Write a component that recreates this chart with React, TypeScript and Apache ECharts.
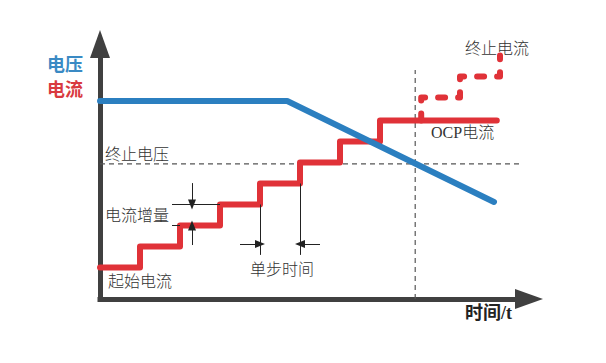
import React, { useEffect, useRef } from "react";
import * as echarts from "echarts";

// time in "step time" units, levels in "current increment" units
const currentTime = [0, 1, 2, 3, 4, 5, 6, 7, 9.92];
const currentLevel = [1.5, 2.5, 3.5, 4.5, 5.5, 6.5, 7.5, 8.5, 8.5];
const ocpTime = [8.03, 9.0, 10.0, 10.0];
const ocpLevel = [8.5, 9.6, 10.6, 11.6];
const voltageTime = [0, 4.68, 9.85];
const voltageLevel = [9.43, 9.43, 4.62];
const endVoltage = 6.43;
const endVoltageSpan = [0, 10.53];
const ocpMoment = 7.88;
const ocpMomentSpan = [0, 10.9];
const axisMax = { x: 10.725, y: 12.143 };

// annotation geometry (data units)
const incrementAt = 2.3;
const incrementLevels = [3.5, 4.5];
const incrementTails = [2.57, 5.52];
const incrementExtFrom = 1.8;
const incrementExtTo = [2.0, 3.0];
const stepEdges = [4, 5];
const stepTops = [4.5, 5.5];
const stepBottom = 2.1;
const stepArrowLevel = 2.62;
const stepArrowTails = [3.5, 5.5];

const CJK = '"Noto Sans CJK SC"';
const labels = [
  { text: "电压", x: 47, y: 63, fill: "#3a8ac4", font: `bold 18px ${CJK}` },
  { text: "电流", x: 47, y: 88, fill: "#d93a3f", font: `bold 18px ${CJK}` },
  { text: "终止电压", x: 105, y: 153, fill: "#333", font: `300 16px ${CJK}` },
  { text: "终止电流", x: 465, y: 47, fill: "#333", font: `300 16px ${CJK}` },
  { text: "OCP电流", x: 431, y: 132, fill: "#333", font: `300 16px "Liberation Serif", ${CJK}` },
  { text: "电流增量", x: 105, y: 214, fill: "#333", font: `300 16px ${CJK}` },
  { text: "起始电流", x: 108, y: 280, fill: "#333", font: `300 16px ${CJK}` },
  { text: "单步时间", x: 250, y: 268, fill: "#333", font: `300 16px ${CJK}` },
  { text: "时间/t", x: 465, y: 313, fill: "#222", font: `bold 18px "Liberation Serif", ${CJK}` },
];

const RED = "#e03238";
const BLUE = "#2b7fc0";

export default function App() {
  const ref = useRef<HTMLDivElement>(null);
  useEffect(() => {
    if (!ref.current) return;
    const chart = echarts.init(ref.current, undefined, { renderer: "svg" });
    const zip = (a: number[], b: number[]) => a.map((v, i) => [v, b[i]]);
    const arrowEnd = { symbol: "triangle", symbolSize: [8, 10] };
    const noEnd = { symbol: "none" };
    const annotation = [
      // current increment arrows
      [{ coord: [incrementAt, incrementTails[1]], ...noEnd }, { coord: [incrementAt, incrementLevels[1]], ...arrowEnd }],
      [{ coord: [incrementAt, incrementTails[0]], ...noEnd }, { coord: [incrementAt, incrementLevels[0]], ...arrowEnd }],
      [{ coord: [incrementExtFrom, incrementLevels[1]], ...noEnd }, { coord: [incrementExtTo[1], incrementLevels[1]], ...noEnd }],
      [{ coord: [incrementExtFrom, incrementLevels[0]], ...noEnd }, { coord: [incrementExtTo[0], incrementLevels[0]], ...noEnd }],
      // step time
      [{ coord: [stepEdges[0], stepTops[0]], ...noEnd }, { coord: [stepEdges[0], stepBottom], ...noEnd }],
      [{ coord: [stepEdges[1], stepTops[1]], ...noEnd }, { coord: [stepEdges[1], stepBottom], ...noEnd }],
      [{ coord: [stepArrowTails[0], stepArrowLevel], ...noEnd }, { coord: [stepEdges[0], stepArrowLevel], ...arrowEnd }],
      [{ coord: [stepArrowTails[1], stepArrowLevel], ...noEnd }, { coord: [stepEdges[1], stepArrowLevel], ...arrowEnd }],
    ];
    const axisCommon = {
      type: "value",
      min: 0,
      splitLine: { show: false },
      axisTick: { show: false },
      axisLabel: { show: false },
      axisLine: {
        show: true,
        onZero: false,
        symbol: ["none", "triangle"],
        symbolSize: [20, 28],
        lineStyle: { color: "#404040", width: 5, cap: "square" },
      },
    };
    chart.setOption({
      animation: false,
      backgroundColor: "#fff",
      grid: { left: 100, top: 44, right: 77, bottom: 64 },
      xAxis: { ...axisCommon, max: axisMax.x },
      yAxis: { ...axisCommon, max: axisMax.y },
      series: [
        {
          name: "终止电压",
          type: "line",
          data: zip(endVoltageSpan, [endVoltage, endVoltage]),
          showSymbol: false,
          z: 1,
          lineStyle: { color: "#555", width: 1.2, type: [5, 4] },
        },
        {
          name: "OCP",
          type: "line",
          data: ocpMomentSpan.map((v) => [ocpMoment, v]),
          showSymbol: false,
          z: 1,
          lineStyle: { color: "#555", width: 1.2, type: [5, 4] },
        },
        {
          name: "annotation",
          type: "line",
          data: [],
          z: 2,
          markLine: {
            silent: true,
            animation: false,
            label: { show: false },
            lineStyle: { color: "#222", width: 1, type: "solid" },
            data: annotation,
          },
        },
        {
          name: "电流",
          type: "line",
          step: "end",
          data: zip(currentTime, currentLevel),
          showSymbol: false,
          z: 3,
          lineStyle: { color: RED, width: 6, cap: "round", join: "round" },
        },
        {
          name: "终止电流",
          type: "line",
          step: "start",
          data: zip(ocpTime, ocpLevel),
          showSymbol: false,
          z: 3,
          lineStyle: { color: RED, width: 6, cap: "round", join: "round", type: [7, 13] },
        },
        {
          name: "电压",
          type: "line",
          data: zip(voltageTime, voltageLevel),
          showSymbol: false,
          z: 4,
          lineStyle: { color: BLUE, width: 6, cap: "round", join: "round" },
        },
      ],
      graphic: labels.map((l) => ({
        type: "text",
        x: l.x,
        y: l.y,
        z: 10,
        style: { text: l.text, fill: l.fill, font: l.font, textAlign: "left", textVerticalAlign: "middle" },
      })),
    });
    return () => chart.dispose();
  }, []);
  return (
    <div
      ref={ref}
      style={{ position: "fixed", left: 0, top: 0, width: 606, height: 363, background: "#fff" }}
    />
  );
}
